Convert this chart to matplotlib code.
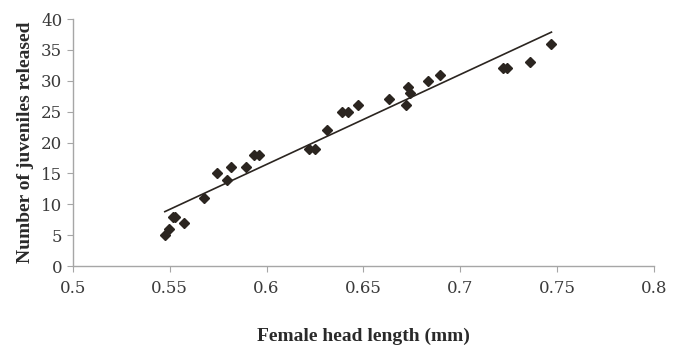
import matplotlib
matplotlib.use('Agg')
import matplotlib.pyplot as plt
import numpy as np

# head length (mm) vs juveniles released
head_length = [0.5475, 0.5496, 0.5517, 0.5527, 0.5573, 0.5677, 0.5744, 0.5795,
               0.5816, 0.5894, 0.5935, 0.5961, 0.6219, 0.6250, 0.6312, 0.6390,
               0.6420, 0.6470, 0.6630, 0.6720, 0.6730, 0.6740, 0.6834, 0.6896,
               0.7220, 0.7240, 0.7360, 0.7470]
juveniles = [5, 6, 8, 8, 7, 11, 15, 14,
             16, 16, 18, 18, 19, 19, 22, 25,
             25, 26, 27, 26, 29, 28, 30, 31,
             32, 32, 33, 36]

x_ticks = [0.5, 0.55, 0.6, 0.65, 0.7, 0.75, 0.8]
x_tick_labels = ['0.5', '0.55', '0.6', '0.65', '0.7', '0.75', '0.8']
y_ticks = [0, 5, 10, 15, 20, 25, 30, 35, 40]

plt.rcParams['font.family'] = ['DejaVu Serif']

fig = plt.figure(figsize=(6.8, 3.46), dpi=100)
fig.patch.set_facecolor('white')
ax = fig.add_axes([0.107, 0.231, 0.855, 0.714])

# linear trendline
coef = np.polyfit(head_length, juveniles, 1)
xl = np.array([min(head_length), max(head_length)])
ax.plot(xl, np.polyval(coef, xl), color='#2b2520', lw=1.2)

ax.plot(head_length, juveniles, 'D', color='#2b2520', ms=5.5, mec='#2b2520')

ax.set_xlim(0.5, 0.8)
ax.set_ylim(0, 40)
ax.set_xticks(x_ticks)
ax.set_xticklabels(x_tick_labels)
ax.set_yticks(y_ticks)

for s in ['top', 'right']:
    ax.spines[s].set_visible(False)
for s in ['left', 'bottom']:
    ax.spines[s].set_color('#a6a6a6')
    ax.spines[s].set_linewidth(1.0)
ax.tick_params(colors='#a6a6a6', labelcolor='#3a3a3a', labelsize=12, length=4, direction='out')
ax.tick_params(axis='x', pad=6)

lab_font = dict(family='Liberation Serif', fontsize=14, fontweight='bold', color='#2a2a2a')
ax.set_xlabel('Female head length (mm)', labelpad=22, **lab_font)
ax.set_ylabel('Number of juveniles released', labelpad=5, **lab_font)

fig.savefig('out.png', dpi=100)
